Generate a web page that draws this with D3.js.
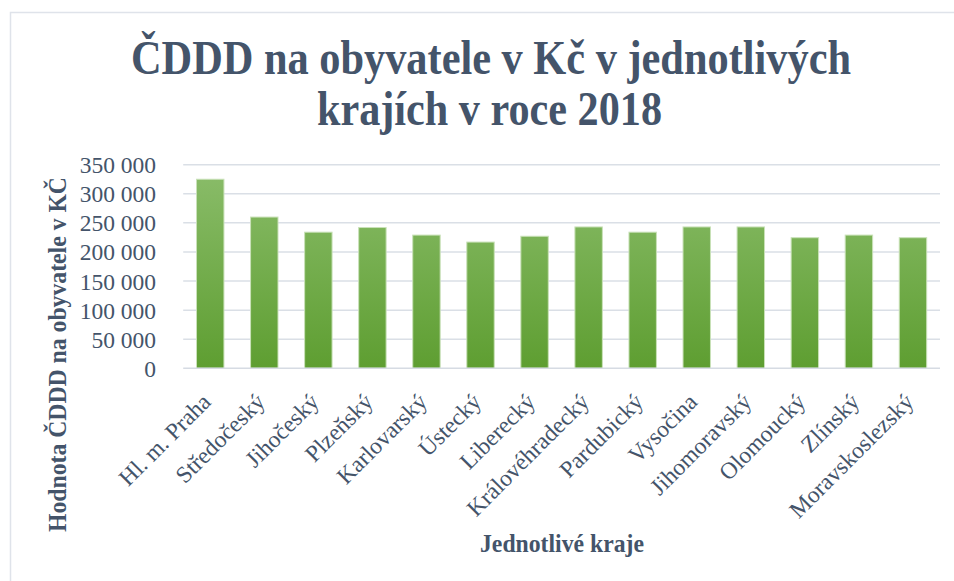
<!DOCTYPE html>
<html>
<head>
<meta charset="utf-8">
<script src="https://cdn.jsdelivr.net/npm/d3@7"></script>
<style>
  html, body { margin: 0; padding: 0; background: #ffffff; }
  svg { display: block; }
</style>
</head>
<body>
<svg id="chart" width="954" height="581"></svg>
<script>
const categories = ["Hl. m. Praha", "Středočeský", "Jihočeský", "Plzeňský", "Karlovarský", "Ústecký", "Liberecký", "Královéhradecký", "Pardubický", "Vysočina", "Jihomoravský", "Olomoucký", "Zlínský", "Moravskoslezský"];
const values = [325000, 260000, 234000, 242000, 229000, 217000, 227000, 243000, 234000, 243000, 243000, 224500, 229000, 224500];
const yTicks = [0, 50000, 100000, 150000, 200000, 250000, 300000, 350000];
const titleLines = ["ČDDD na obyvatele v Kč v jednotlivých", "krajích v roce 2018"];
const yTitle = "Hodnota ČDDD na obyvatele v KČ";
const xTitle = "Jednotlivé kraje";

const textColor = "#44546a";
const gridColor = "#dadfe6";
const serif = "'Liberation Serif', 'Times New Roman', serif";

const svg = d3.select("#chart");
svg.append("rect").attr("width", 954).attr("height", 581).attr("fill", "#fff");
svg.append("rect").attr("x", 10.5).attr("y", 12.5).attr("width", 980).attr("height", 620)
  .attr("fill", "none").attr("stroke", "#dfe3ea").attr("stroke-width", 1.5);

const plot = { left: 183.2, right: 940, top: 164.7, bottom: 368.3 };

const x = d3.scaleBand().domain(categories).range([plot.left, plot.right]).paddingInner(0.4924).paddingOuter(0.2462);
const y = d3.scaleLinear().domain([0, 350000]).range([plot.bottom, plot.top]);

const locale = d3.formatLocale({ decimal: ",", thousands: " ", grouping: [3], currency: ["", " Kč"] });
const fmt = locale.format(",d");

// gridlines
svg.append("g").selectAll("line").data(yTicks.filter(d => d > 0)).join("line")
  .attr("x1", plot.left).attr("x2", plot.right)
  .attr("y1", d => y(d)).attr("y2", d => y(d))
  .attr("stroke", gridColor).attr("stroke-width", 1.5);

// bars
const defs = svg.append("defs");
const grad = defs.append("linearGradient").attr("id", "barGrad")
  .attr("gradientUnits", "userSpaceOnUse")
  .attr("x1", 0).attr("x2", 0).attr("y1", y(350000)).attr("y2", y(0));
grad.append("stop").attr("offset", "0%").attr("stop-color", "#8bbd6b");
grad.append("stop").attr("offset", "100%").attr("stop-color", "#5e9e31");

svg.append("g").selectAll("rect").data(values).join("rect")
  .attr("x", (d, i) => x(categories[i]))
  .attr("width", x.bandwidth())
  .attr("y", d => y(d))
  .attr("height", d => y(0) - y(d))
  .attr("fill", "url(#barGrad)")
  .attr("stroke", "#c9e1b8").attr("stroke-width", 1);

// x axis line
svg.append("line").attr("x1", plot.left).attr("x2", plot.right)
  .attr("y1", y(0)).attr("y2", y(0))
  .attr("stroke", "#d6dbe3").attr("stroke-width", 1.5);

// y axis tick labels
const yAxis = d3.axisLeft(y).tickValues(yTicks).tickFormat(fmt).tickSize(0).tickPadding(0);
const gy = svg.append("g").attr("transform", `translate(156,0)`).call(yAxis);
gy.select(".domain").remove();
gy.selectAll("text").attr("font-family", serif).attr("font-size", 23.5).attr("fill", textColor).attr("dy", "0.34em");

// x axis labels
const xAxis = d3.axisBottom(x).tickSize(0).tickPadding(0);
const gx = svg.append("g").attr("transform", `translate(0,${plot.bottom})`).call(xAxis);
gx.select(".domain").remove();
gx.selectAll("text")
  .attr("font-family", serif).attr("font-size", 23.5).attr("fill", textColor)
  .attr("text-anchor", "end")
  .attr("y", 0).attr("dy", 0)
  .attr("transform", "translate(2,35) rotate(-45)");

// titles
svg.append("text").attr("x", 131).attr("y", 74).attr("textLength", 720).attr("lengthAdjust", "spacingAndGlyphs")
  .attr("font-family", serif).attr("font-weight", "bold").attr("font-size", 48).attr("fill", textColor)
  .text(titleLines[0]);
svg.append("text").attr("x", 317).attr("y", 125).attr("textLength", 345).attr("lengthAdjust", "spacingAndGlyphs")
  .attr("font-family", serif).attr("font-weight", "bold").attr("font-size", 48).attr("fill", textColor)
  .text(titleLines[1]);

svg.append("text").attr("transform", "translate(66,354.5) rotate(-90)")
  .attr("text-anchor", "middle").attr("textLength", 355).attr("lengthAdjust", "spacingAndGlyphs")
  .attr("font-family", serif).attr("font-weight", "bold").attr("font-size", 24.5).attr("fill", textColor)
  .text(yTitle);

svg.append("text").attr("x", 480).attr("y", 552).attr("textLength", 164).attr("lengthAdjust", "spacingAndGlyphs")
  .attr("font-family", serif).attr("font-weight", "bold").attr("font-size", 26).attr("fill", textColor)
  .text(xTitle);
</script>
</body>
</html>
